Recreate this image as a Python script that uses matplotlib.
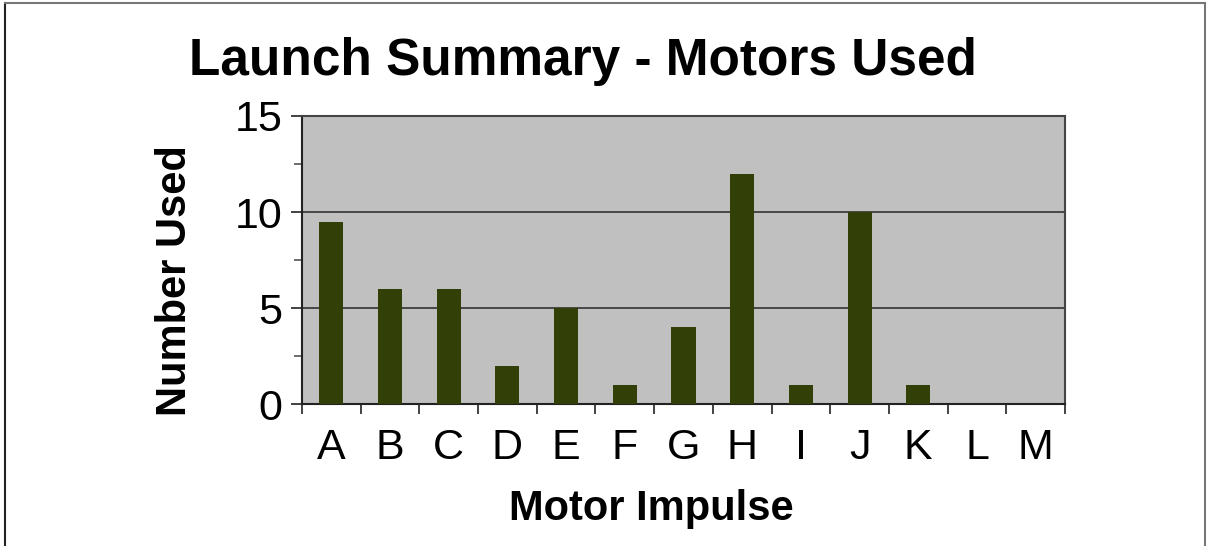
import matplotlib.pyplot as plt
from matplotlib.lines import Line2D

# === data ===
motors = ['A', 'B', 'C', 'D', 'E', 'F', 'G', 'H', 'I', 'J', 'K', 'L', 'M']
used = [9.5, 6, 6, 2, 5, 1, 4, 12, 1, 10, 1, 0, 0]
y_ticks = [0, 5, 10, 15]

plt.rcParams['font.family'] = ['Liberation Sans', 'DejaVu Sans']

W, H = 1207, 546
fig = plt.figure(figsize=(W / 100, H / 100), dpi=100)
ax = fig.add_axes([302 / W, 142 / H, 763 / W, 288 / H])

# === bars ===
x = list(range(len(motors)))
ax.bar(x, used, width=0.41, color='#323F06', zorder=3)

# === axes ===
ax.set_facecolor('#C0C0C0')
ax.set_xlim(-0.5, len(motors) - 0.5)
ax.set_ylim(0, 15)
ax.set_yticks(y_ticks)
ax.set_yticks([2.5, 7.5, 12.5], minor=True)
ax.yaxis.grid(True, color='#333333', linewidth=1.2, zorder=1)
ax.set_xticks(x)
ax.set_xticklabels(motors)
ax.set_xticks([i - 0.5 for i in range(len(motors) + 1)], minor=True)
ax.tick_params(axis='x', which='major', length=0, pad=17, labelsize=31)
ax.tick_params(axis='x', which='minor', length=7, width=1.2, color='#222222')
ax.tick_params(axis='y', which='major', length=8, width=1.2, pad=6, labelsize=31, color='#222222')
ax.tick_params(axis='y', which='minor', length=6, width=1.2, color='#555555')

for side in ['left', 'bottom']:
    ax.spines[side].set_color('#222222')
    ax.spines[side].set_linewidth(1.5)
for side in ['top', 'right']:
    ax.spines[side].set_color('#444444')
    ax.spines[side].set_linewidth(1.5)

# === texts ===
fig.text(651 / W, 1 - 520 / H, 'Motor Impulse', ha='center', va='baseline',
         fontsize=30, fontweight='bold')
fig.text(186 / W, 1 - 281 / H, 'Number Used', ha='center', va='baseline', rotation=90,
         fontsize=30, fontweight='bold', rotation_mode='anchor')
fig.text(583 / W, 1 - 75 / H, 'Launch Summary - Motors Used',
         ha='center', va='baseline', fontsize=37, fontweight='bold')

# === outer frame ===
fig.add_artist(Line2D([4.5 / W, 4.5 / W], [0, 1 - 2.5 / H], transform=fig.transFigure,
                      color='#222222', linewidth=1.5))
fig.add_artist(Line2D([4.5 / W, 1205 / W], [1 - 2.5 / H, 1 - 2.5 / H],
                      transform=fig.transFigure, color='#777777', linewidth=1.5))
fig.add_artist(Line2D([1205 / W, 1205 / W], [0, 1 - 2.5 / H], transform=fig.transFigure,
                      color='#777777', linewidth=1.5))

fig.savefig('out.png', dpi=100)
